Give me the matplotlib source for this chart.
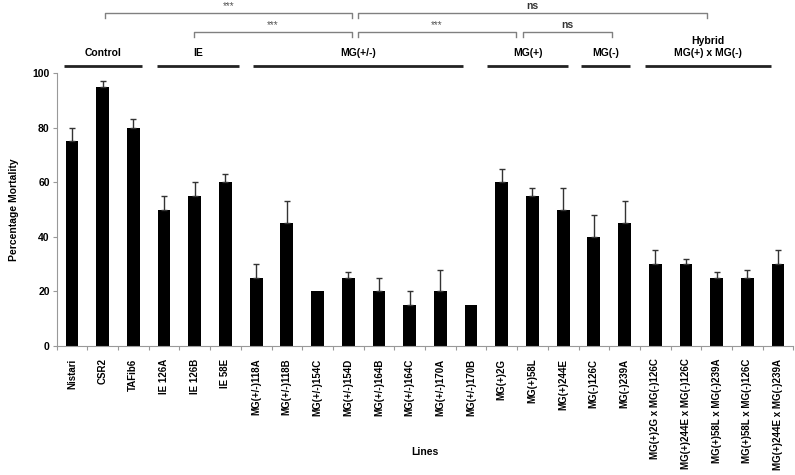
import matplotlib
matplotlib.use("Agg")
import matplotlib.pyplot as plt
import matplotlib.transforms as mtransforms
import numpy as np

plt.rcParams['font.family'] = ['Liberation Sans', 'DejaVu Sans']

lines = ["Nistari", "CSR2", "TAFib6", "IE 126A", "IE 126B", "IE 58E",
         "MG(+/-)118A", "MG(+/-)118B", "MG(+/-)154C", "MG(+/-)154D",
         "MG(+/-)164B", "MG(+/-)164C", "MG(+/-)170A", "MG(+/-)170B",
         "MG(+)2G", "MG(+)58L", "MG(+)244E", "MG(-)126C", "MG(-)239A",
         "MG(+)2G x MG(-)126C", "MG(+)244E x MG(-)126C",
         "MG(+)58L x MG(-)239A", "MG(+)58L x MG(-)126C",
         "MG(+)244E x MG(-)239A"]
mortality = [75, 95, 80, 50, 55, 60, 25, 45, 20, 25, 20, 15, 20, 15,
             60, 55, 50, 40, 45, 30, 30, 25, 25, 30]
error = [5, 2, 3, 5, 5, 3, 5, 8, 0, 2, 5, 5, 8, 0,
         5, 3, 8, 8, 8, 5, 2, 2, 3, 5]

group_names = ["Control", "IE", "MG(+/-)", "MG(+)", "MG(-)", "Hybrid\nMG(+) x MG(-)"]
group_spans = [(-0.26, 2.28), (2.77, 5.44), (5.9, 12.74), (13.52, 16.16),
               (16.58, 18.18), (18.66, 22.77)]

# brackets: (x_left, x_right, level, label)
brackets = [(1.07, 9.12, 0, "***"), (9.32, 20.68, 0, "ns"),
            (3.97, 9.12, 1, "***"), (9.32, 14.46, 1, "***"),
            (14.69, 17.59, 1, "ns")]

W, H = 795, 475
fig = plt.figure(figsize=(W / 100, H / 100), dpi=100)
ax = fig.add_axes([56.6 / W, 1 - 346 / H, (793.4 - 56.6) / W, (346 - 73) / H])

x = np.arange(len(lines))
m = np.array(mortality, dtype=float)
e = np.array(error, dtype=float)
ax.bar(x, m, width=0.42, color="black", zorder=2)
has = e > 0
ax.errorbar(x[has], m[has], yerr=[np.zeros(has.sum()), e[has]], fmt="none",
            ecolor="#333333", elinewidth=1.0, capsize=2.3, capthick=1.0, zorder=3)

ax.set_xlim(-0.5, len(lines) - 0.5)
ax.set_ylim(0, 100)
ax.set_yticks([0, 20, 40, 60, 80, 100])
ax.set_xticks(x)
ax.set_xticklabels(lines, rotation=90, fontsize=7, fontweight="bold")
ax.set_xticks(np.arange(-0.5, len(lines), 1), minor=True)
ax.tick_params(axis="x", which="major", length=0, pad=9)
ax.tick_params(axis="x", which="minor", length=3, color="#999999", width=0.8)
ax.tick_params(axis="y", length=3, color="#999999", width=0.8, pad=2)
for lab in ax.get_yticklabels():
    lab.set_fontsize(7.5)
    lab.set_fontweight("bold")
for s in ["top", "right"]:
    ax.spines[s].set_visible(False)
for s in ["left", "bottom"]:
    ax.spines[s].set_color("#999999")
    ax.spines[s].set_linewidth(0.8)

ax.set_ylabel("Percentage Mortality", fontsize=7.5, fontweight="bold", labelpad=10)
ax.set_xlabel("Lines", fontsize=7.5, fontweight="bold")
ax.xaxis.set_label_coords(0.5, (346 - 447) / 273, transform=ax.transAxes)

trans = mtransforms.blended_transform_factory(ax.transData, fig.transFigure)

def fy(px):
    return 1 - px / H

# group lines and labels
for name, (a, b) in zip(group_names, group_spans):
    ax.plot([a, b], [fy(65.5), fy(65.5)], transform=trans, color="#222222",
            lw=2.0, clip_on=False, solid_capstyle="butt")
    ax.text((a + b) / 2, fy(58), name, transform=trans, ha="center", va="bottom",
            fontsize=7.5, fontweight="bold", linespacing=1.2)

# significance brackets
for a, b, lev, lab in brackets:
    ytop = fy(12.5) if lev == 0 else fy(31.5)
    ybot = fy(17.5) if lev == 0 else fy(37)
    ax.plot([a, a, b, b], [ybot, ytop, ytop, ybot], transform=trans,
            color="#808080", lw=1.0, clip_on=False)
    if lab == "ns":
        ax.text((a + b) / 2, ytop + 0.004, lab, transform=trans, ha="center",
                va="bottom", fontsize=7.5, fontweight="bold", color="#333333")
    else:
        ax.text((a + b) / 2, ytop + 0.002, lab, transform=trans, ha="center",
                va="bottom", fontsize=7, color="#555555")

fig.savefig("out.png", dpi=100)
